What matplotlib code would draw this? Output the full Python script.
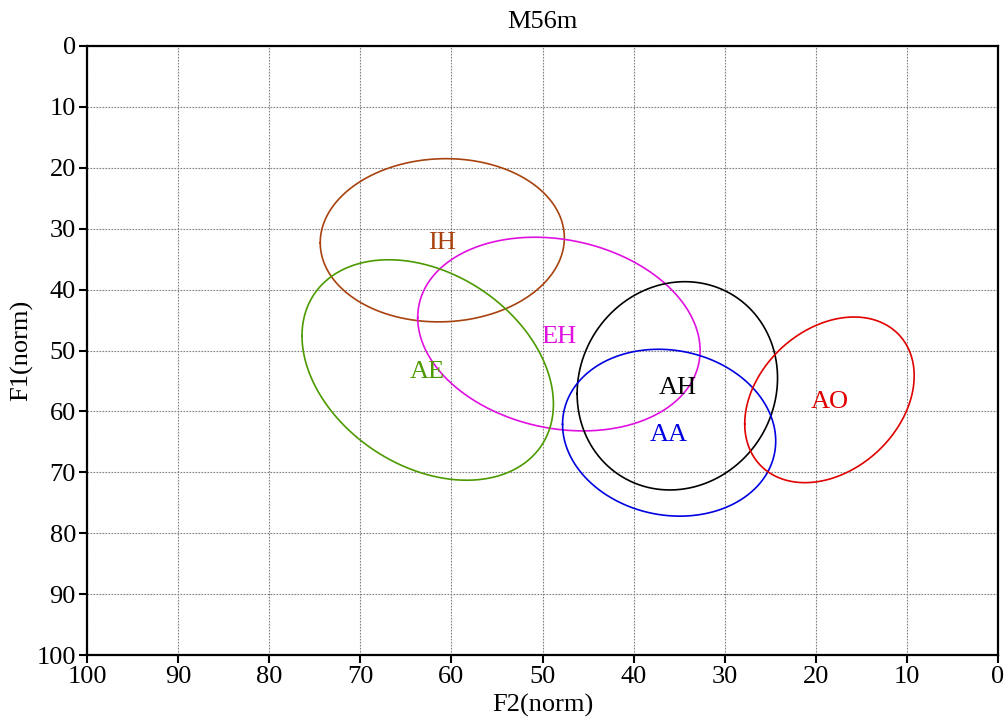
import numpy as np
import matplotlib
matplotlib.use("Agg")
import matplotlib.pyplot as plt

# vowel ellipses in normalised F2/F1 space
vowels = ['IH', 'EH', 'AE', 'AH', 'AA', 'AO']
f2_mean = [61.0, 48.2, 62.6, 35.2, 36.1, 18.5]
f1_mean = [31.9, 47.3, 53.2, 55.8, 63.5, 58.1]
f2_half = [13.4, 15.5, 13.8, 11.0, 11.7, 9.3]   # half extent along F2
f1_half = [13.4, 15.9, 18.1, 17.1, 13.7, 13.6]  # half extent along F1
corr = [0.03, -0.17, -0.31, 0.075, -0.10, 0.29]
colors = ['#A8420E', '#E010E0', '#4C9A00', '#000000', '#0000E0', '#E00000']

ticks = list(range(0, 101, 10))

plt.rcParams['font.family'] = ['Liberation Serif', 'DejaVu Serif']

fig = plt.figure(figsize=(10.08, 7.22), dpi=100)
ax = fig.add_axes([87 / 1008, 1 - 655 / 722, (998 - 87) / 1008, (655 - 46) / 722])

t = np.linspace(0, 2 * np.pi, 400)
for name, cx, cy, hx, hy, r, c in zip(vowels, f2_mean, f1_mean, f2_half, f1_half, corr, colors):
    d = np.arccos(r)
    ax.plot(cx + hx * np.cos(t), cy + hy * np.cos(t + d), color=c, lw=1.2)
    ax.text(cx, cy, name, color=c, fontsize=19, ha='center', va='center_baseline')

ax.set_xlim(100, 0)
ax.set_ylim(100, 0)
ax.set_xticks(ticks)
ax.set_yticks(ticks)
ax.tick_params(labelsize=19, width=1.5, length=6, pad=2, direction='out')
ax.grid(True, color='#808080', linestyle=(0, (1.5, 1.2)), linewidth=0.8)
for s in ax.spines.values():
    s.set_linewidth(1.6)

ax.set_title('M56m', fontsize=19, pad=13)
ax.set_xlabel('F2(norm)', fontsize=19, labelpad=4)
ax.set_ylabel('F1(norm)', fontsize=19, labelpad=2)

fig.savefig('out.png', dpi=100)
